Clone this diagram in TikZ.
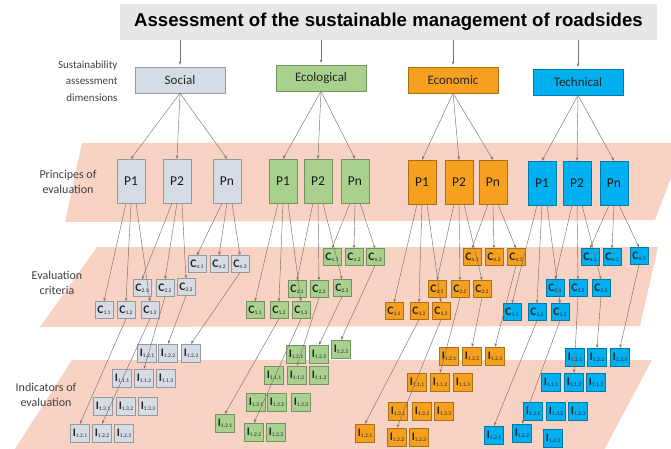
\documentclass[tikz,border=0pt]{standalone}
\usepackage{fontspec}
\setmainfont{Carlito}
\newfontfamily\titlefont{Liberation Sans}
\usetikzlibrary{arrows.meta}
\definecolor{band}{RGB}{248,210,195}
\definecolor{socf}{RGB}{214,220,229}
\definecolor{ecof}{RGB}{169,209,142}
\definecolor{ecnf}{RGB}{245,160,30}
\definecolor{tecf}{RGB}{0,176,240}
\definecolor{arr}{RGB}{125,112,110}
\definecolor{titlebg}{RGB}{231,231,231}
\newcommand{\myC}[1]{{\fontsize{11.5}{11.5}\selectfont\bfseries C}\raisebox{-1.2pt}{\fontsize{5.5}{5.5}\selectfont #1}}
\newcommand{\myI}[1]{{\fontsize{11.5}{11.5}\selectfont\bfseries I}\raisebox{-1.2pt}{\fontsize{5.5}{5.5}\selectfont #1}}
\newcommand{\mkgroup}[7]{%
  \node[dimbox=#2] (#1D) at #3 {#4};
  \foreach \n/\x/\y/\lb in {#5} {\node[pbox=#2] (#1\n) at (\x,\y) {\lb};}
  \foreach \n/\x/\y/\lb in {#6} {\node[sbox=#2] (#1\n) at (\x,\y) {\myC{\lb}};}
  \foreach \n/\x/\y/\lb in {#7} {\node[sbox=#2,minimum width=19pt,minimum height=18pt] (#1\n) at (\x,\y) {\myI{\lb}};}
}
\begin{document}
\begin{tikzpicture}[x=1pt,y=-1pt,
  conn/.style={draw=arr,line width=0.45pt,-{Stealth[length=3.5pt,width=2.6pt]}},
  dimbox/.style={fill=#1,draw=#1!70!black,line width=0.4pt,minimum width=90pt,minimum height=26pt,inner sep=0pt,font=\fontsize{13}{13}\selectfont,text=black!85},
  pbox/.style={fill=#1,draw=#1!70!black,line width=0.4pt,minimum width=28pt,minimum height=44pt,inner sep=0pt,font=\fontsize{13.5}{13.5}\selectfont,text=black!90},
  sbox/.style={fill=#1,draw=#1!70!black,line width=0.4pt,minimum width=18pt,minimum height=17pt,inner sep=0pt,text=black!85},
  lbl/.style={font=\fontsize{12}{15.5}\selectfont,align=center,text=black!75},
]
\useasboundingbox (0,0) rectangle (671,449);
\clip (0,0) rectangle (671,449);
% bands
\fill[band] (82,143) -- (684,143) -- (655,220) -- (65,222) -- cycle;
\fill[band] (97,247) -- (658,247) -- (640,326) -- (40,327) -- cycle;
\fill[band] (72,360) -- (652,360) -- (603,452) -- (13,452) -- cycle;
% title
\node[fill=titlebg,minimum width=537pt,minimum height=36pt,inner sep=0pt] (title) at (388.5,22)
  {\titlefont\bfseries\fontsize{18.6}{18.6}\selectfont Assessment of the sustainable management of roadsides};
% left labels
\node[lbl,font=\fontsize{11}{16.5}\selectfont,align=right,anchor=east] (ldim) at (121,81) {Sustainability\\assessment\\dimensions};
\node[lbl] (lprin) at (68,182) {Principes of\\evaluation};
\node[lbl] (lcrit) at (57,283) {Evaluation\\criteria};
\node[lbl] (lind) at (46,395) {Indicators of\\evaluation};
% groups
\mkgroup{s}{socf}{(180,80)}{Social}
 {P1/131/181/P1,P2/177/181/P2,Pn/227/181/Pn}
 {C11/104/310/1.1,C12/126/310/1.2,C13/150/310/1.3,C21/142/288/2.1,C22/165/288/2.2,C23/186/287/2.3,Cn1/197/264/n.1,Cn2/219/264/n.2,Cn3/240/264/n.3}
 {I11/147/353/1.2.1,I12/168/353/1.2.2,I13/191/353/1.2.3,I21/122/378/1.1.1,I22/144/378/1.1.2,I23/166/378/1.1.3,I31/103/406/1.3.1,I32/126/406/1.3.2,I33/148/406/1.3.3,I41/80/433/1.2.1,I42/102/433/1.2.2,I43/124/433/1.2.3}
\mkgroup{e}{ecof}{(321,78)}{Ecological}
 {P1/283/181/P1,P2/318/181/P2,Pn/355/181/Pn}
 {C11/255/310/1.1,C12/279/310/1.2,C13/301/310/1.3,C21/297/289/2.1,C22/319/289/2.2,C23/342/288/2.3,Cn1/332/257/n.1,Cn2/354/257/n.2,Cn3/375/257/n.3}
 {I11/296/354/1.2.1,I12/319/354/1.2.2,I13/341/349/1.2.3,I21/274/375/1.1.1,I22/297/375/1.1.2,I23/319/375/1.1.3,I31/256/402/1.3.1,I32/277/402/1.3.2,I33/301/402/1.3.3,I41/225/423/1.2.1,I42/254/432/1.2.2,I43/276/432/1.2.3}
\mkgroup{c}{ecnf}{(453,80)}{Economic}
 {P1/422/182/P1,P2/459/182/P2,Pn/493/182/Pn}
 {C11/394/311/1.1,C12/419/311/1.2,C13/441/311/1.3,C21/437/289/2.1,C22/460/289/2.2,C23/482/289/2.3,Cn1/472/257/n.1,Cn2/494/257/n.2,Cn3/516/257/n.3}
 {I11/449/356/1.2.1,I12/472/356/1.2.2,I13/495/356/1.2.3,I21/417/382/1.1.1,I22/440/382/1.1.2,I23/463/382/1.1.3,I31/398/411/1.3.1,I32/422/411/1.3.2,I33/444/411/1.3.3,I41/365/433/1.2.1,I42/397/437/1.2.2,I43/419/437/1.2.3}
\mkgroup{t}{tecf}{(578,82)}{Technical}
 {P1/542/183/P1,P2/577/183/P2,Pn/614/183/Pn}
 {C11/512/312/1.1,C12/537/312/1.2,C13/560/312/1.3,C21/555/288/2.1,C22/578/288/2.2,C23/601/288/2.3,Cn1/590/257/n.1,Cn2/612/257/n.2,Cn3/639/256/n.3}
 {I11/575/357/1.2.1,I12/597/357/1.2.2,I13/620/357/1.2.3,I21/551/382/1.1.1,I22/574/382/1.1.2,I23/596/382/1.1.3,I31/533/411/1.3.1,I32/556/411/1.3.2,I33/578/411/1.3.3,I41/494/435/1.2.1,I42/522/433/1.2.2,I43/553/438/1.2.3}
% connectors
\foreach \g in {s,e,c,t} {
  \draw[conn] (title.south -| \g D.north) -- ([yshift=2pt]\g D.north);
  \foreach \p in {P1,P2,Pn} {\draw[conn] (\g D.south) -- (\g\p.north);}
  \foreach \p/\c/\o in {P1/C11/-5,P1/C12/0,P1/C13/5,P2/C21/-5,P2/C22/0,P2/C23/5,Pn/Cn1/-5,Pn/Cn2/0,Pn/Cn3/5}
    {\draw[conn] ([xshift=\o pt]\g\p.south) -- (\g\c.north);}
  \foreach \c/\i in {C12/I41,C13/I42,C22/I22,C23/I12,Cn3/I13}
    {\draw[conn] (\g\c.south) -- (\g\i.north);}
}
\end{tikzpicture}
\end{document}
